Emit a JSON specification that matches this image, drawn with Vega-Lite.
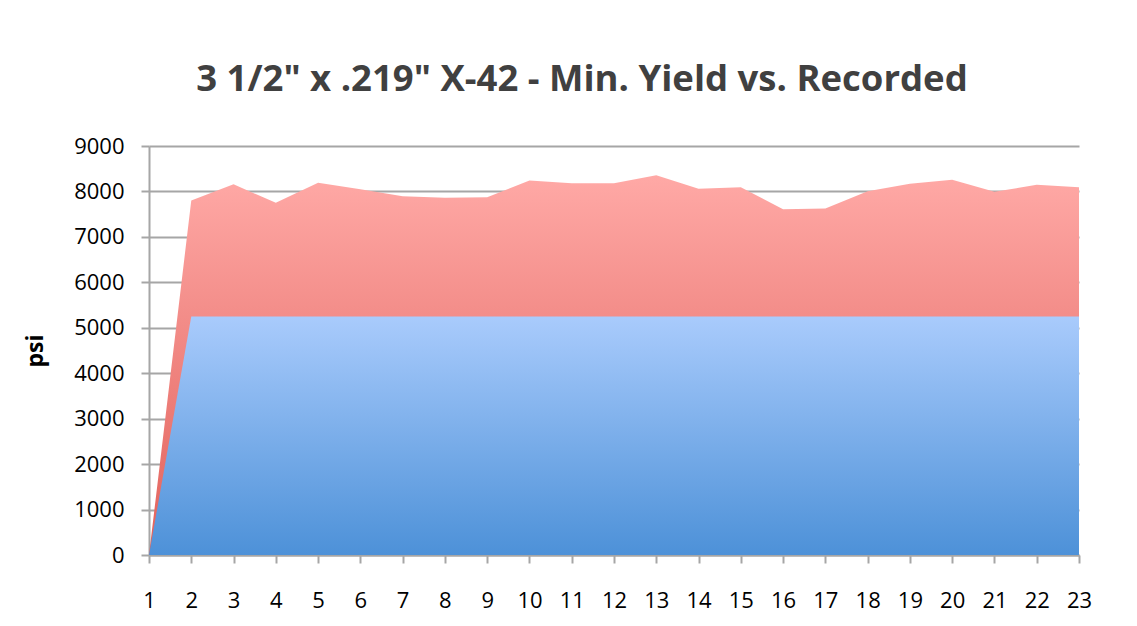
{
  "$schema": "https://vega.github.io/schema/vega-lite/v6.json",
  "width": 930,
  "height": 409,
  "autosize": {"type": "none"},
  "padding": {"left": 149, "top": 146, "right": 58, "bottom": 71},
  "background": "white",
  "title": {
    "text": "3 1/2\" x .219\" X-42 - Min. Yield vs. Recorded",
    "font": "Open Sans",
    "fontSize": 36.5,
    "fontWeight": "bold",
    "color": "#404040",
    "anchor": "middle",
    "frame": "group",
    "baseline": "alphabetic",
    "offset": 8,
    "dx": -32
  },
  "data": {
    "values": [
      {"n": 1, "recorded": 0, "minyield": 0},
      {"n": 2, "recorded": 7800, "minyield": 5250},
      {"n": 3, "recorded": 8158, "minyield": 5250},
      {"n": 4, "recorded": 7749, "minyield": 5250},
      {"n": 5, "recorded": 8189, "minyield": 5250},
      {"n": 6, "recorded": 8050, "minyield": 5250},
      {"n": 7, "recorded": 7894, "minyield": 5250},
      {"n": 8, "recorded": 7859, "minyield": 5250},
      {"n": 9, "recorded": 7872, "minyield": 5250},
      {"n": 10, "recorded": 8240, "minyield": 5250},
      {"n": 11, "recorded": 8181, "minyield": 5250},
      {"n": 12, "recorded": 8181, "minyield": 5250},
      {"n": 13, "recorded": 8357, "minyield": 5250},
      {"n": 14, "recorded": 8057, "minyield": 5250},
      {"n": 15, "recorded": 8094, "minyield": 5250},
      {"n": 16, "recorded": 7609, "minyield": 5250},
      {"n": 17, "recorded": 7624, "minyield": 5250},
      {"n": 18, "recorded": 8005, "minyield": 5250},
      {"n": 19, "recorded": 8167, "minyield": 5250},
      {"n": 20, "recorded": 8255, "minyield": 5250},
      {"n": 21, "recorded": 7991, "minyield": 5250},
      {"n": 22, "recorded": 8145, "minyield": 5250},
      {"n": 23, "recorded": 8094, "minyield": 5250}
    ]
  },
  "encoding": {
    "x": {
      "field": "n",
      "type": "quantitative",
      "scale": {"domain": [1, 23], "nice": false, "zero": false},
      "axis": {
        "title": null,
        "values": [1,2,3,4,5,6,7,8,9,10,11,12,13,14,15,16,17,18,19,20,21,22,23],
        "format": "d",
        "grid": false,
        "domainColor": "#A6A6A6",
        "domainWidth": 2,
        "tickColor": "#A6A6A6",
        "tickWidth": 2,
        "tickSize": 8,
        "labelFont": "Open Sans",
        "labelFontSize": 22,
        "labelColor": "#000000",
        "labelPadding": 27,
        "labelFlush": false
      }
    }
  },
  "layer": [
    {
      "mark": {
        "type": "area",
        "line": false,
        "color": {
          "gradient": "linear",
          "x1": 0, "y1": 0, "x2": 0, "y2": 1,
          "stops": [
            {"offset": 0, "color": "#FFA9A6"},
            {"offset": 0.37, "color": "#F38D89"},
            {"offset": 1, "color": "#E2615A"}
          ]
        },
        "opacity": 1
      },
      "encoding": {
        "y": {
          "field": "recorded",
          "type": "quantitative",
          "scale": {"domain": [0, 9000], "nice": false},
          "axis": {
            "title": "psi",
            "titleFont": "Open Sans",
            "titleFontSize": 23,
            "titleFontWeight": "bold",
            "titleColor": "#000000",
            "titlePadding": 26,
            "values": [0,1000,2000,3000,4000,5000,6000,7000,8000,9000],
            "format": "d",
            "grid": true,
            "gridColor": "#A6A6A6",
            "gridWidth": 2,
            "domainColor": "#A6A6A6",
            "domainWidth": 2,
            "tickColor": "#A6A6A6",
            "tickWidth": 2,
            "tickSize": 8,
            "labelFont": "Open Sans",
            "labelFontSize": 22,
            "labelColor": "#000000",
            "labelPadding": 17
          }
        }
      }
    },
    {
      "mark": {
        "type": "area",
        "line": false,
        "color": {
          "gradient": "linear",
          "x1": 0, "y1": 0, "x2": 0, "y2": 1,
          "stops": [
            {"offset": 0, "color": "#A9CBFC"},
            {"offset": 1, "color": "#4D91D8"}
          ]
        },
        "opacity": 1
      },
      "encoding": {
        "y": {"field": "minyield", "type": "quantitative"}
      }
    }
  ],
  "config": {
    "view": {"stroke": null}
  }
}
